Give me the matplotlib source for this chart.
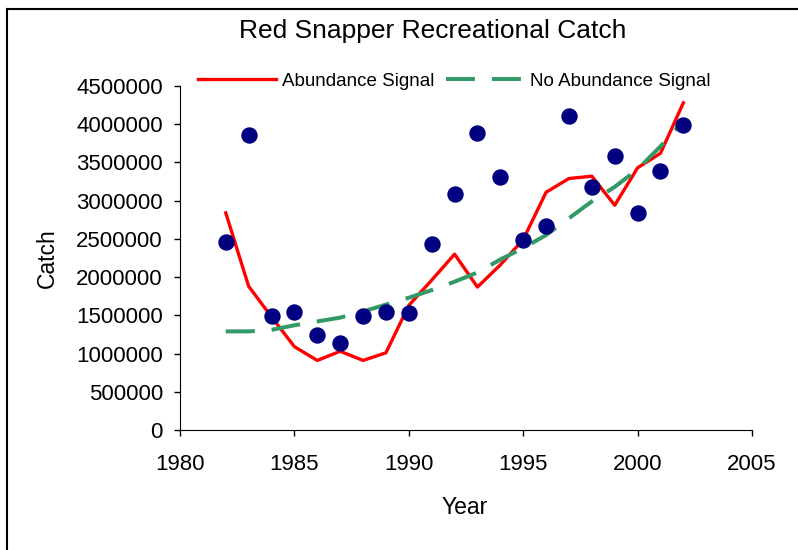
import matplotlib
matplotlib.use('Agg')
import matplotlib.pyplot as plt
from matplotlib.lines import Line2D

years = list(range(1982, 2003))
catch_obs = [2460000, 3860000, 1490000, 1540000, 1240000, 1140000, 1490000,
             1540000, 1530000, 2430000, 3090000, 3890000, 3310000, 2490000,
             2670000, 4110000, 3180000, 3590000, 2840000, 3390000, 3990000]
abundance = [2840000, 1880000, 1480000, 1090000, 910000, 1030000, 910000,
             1010000, 1630000, 1960000, 2300000, 1870000, 2160000, 2490000,
             3110000, 3290000, 3320000, 2940000, 3430000, 3620000, 4280000]
no_abundance = [1290000, 1290000, 1310000, 1370000, 1420000, 1470000, 1550000,
                1640000, 1730000, 1830000, 1940000, 2060000, 2230000, 2380000,
                2550000, 2770000, 2990000, 3180000, 3410000, 3710000, 4040000]

plt.rcParams['font.family'] = ['Liberation Sans', 'DejaVu Sans']

W, H = 798, 550
fig = plt.figure(figsize=(W / 100, H / 100), dpi=100)
ax = fig.add_axes([180 / W, 1 - 430 / H, 572 / W, 344 / H])

ax.plot(years, catch_obs, 'o', color='#000080', markersize=10.8, zorder=3)
l1, = ax.plot(years, abundance, color='#FF0000', lw=2.4, zorder=2)
l2, = ax.plot(years, no_abundance, color='#339966', lw=2.9,
              dashes=(7.2, 4.2), zorder=2)

ax.set_xlim(1980, 2005)
ax.set_ylim(0, 4500000)
ax.set_xticks(range(1980, 2006, 5))
ax.set_yticks(range(0, 4500001, 500000))
ax.set_yticklabels([str(v) for v in range(0, 4500001, 500000)])
ax.tick_params(labelsize=16, length=4.3, width=1, direction='out')
ax.tick_params(axis='y', pad=8)
ax.tick_params(axis='x', pad=13)
for s in ['top', 'right']:
    ax.spines[s].set_visible(False)

fig.text(433 / W, 1 - 31 / H, 'Red Snapper Recreational Catch',
         ha='center', va='center', fontsize=19)
fig.text(465 / W, 1 - 507 / H, 'Year', ha='center', va='center', fontsize=16.5)
fig.text(47 / W, 1 - 258 / H, 'Catch', ha='center', va='center',
         fontsize=16.5, rotation=90)

fig.legend([l1, l2], ['Abundance Signal', 'No Abundance Signal'], ncol=2,
           loc='center', bbox_to_anchor=(454 / W, 1 - 81 / H), frameon=False,
           fontsize=13.5, handlelength=4.2, handletextpad=0.3,
           columnspacing=0.6, borderpad=0, borderaxespad=0)

# border of the chart area (cut off on the right and bottom)
fig.add_artist(Line2D([6.5 / W, 6.5 / W], [0, 1 - 9 / H], color='black', lw=1.5,
                      transform=fig.transFigure))
fig.add_artist(Line2D([6.5 / W, 1], [1 - 9 / H, 1 - 9 / H], color='black', lw=1.5,
                      transform=fig.transFigure))

fig.savefig('out.png', dpi=100)
